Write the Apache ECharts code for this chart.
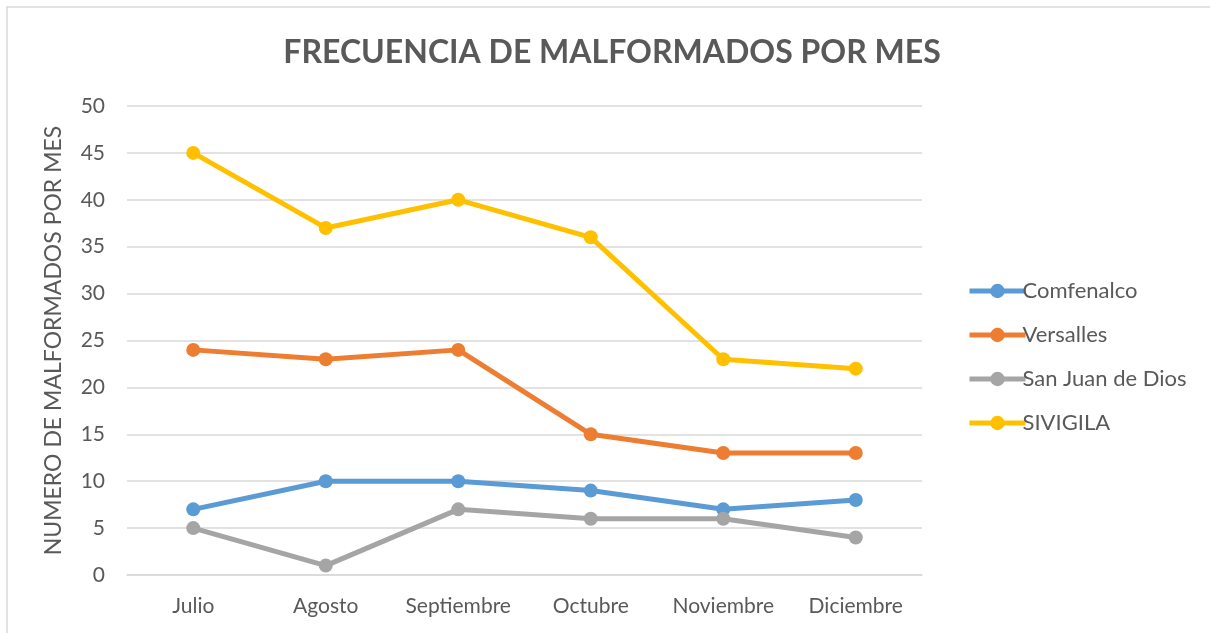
<!DOCTYPE html>
<html><head><meta charset="utf-8">
<script src="https://cdn.jsdelivr.net/npm/echarts@6/dist/echarts.min.js"></script>
<style>html,body{margin:0;padding:0;background:#fff}#c{width:1210px;height:633px}</style>
</head><body><div id="c"></div>
<script>
const categories = ['Julio','Agosto','Septiembre','Octubre','Noviembre','Diciembre'];
const comfenalco = [7,10,10,9,7,8];
const versalles = [24,23,24,15,13,13];
const sanJuan = [5,1,7,6,6,4];
const sivigila = [45,37,40,36,23,22];
const yTicks = [0,5,10,15,20,25,30,35,40,45,50];

const FONT = 'Lato, "Open Sans", sans-serif';
const chart = echarts.init(document.getElementById('c'), null, {renderer:'canvas'});
function s(name, data, color){
  return {name, type:'line', data, symbol:'circle', symbolSize:14,
    lineStyle:{width:5,color}, itemStyle:{color}, z: 3};
}
chart.setOption({
  animation:false,
  title:{text:'FRECUENCIA DE MALFORMADOS POR MES', left:607, top:32, textAlign:'center',
    textStyle:{fontFamily:FONT, fontSize:32, fontWeight:'bold', color:'#595959'}},
  graphic:[{type:'rect', shape:{x:7,y:7,width:1300,height:700}, style:{fill:'none',stroke:'#d9d9d9',lineWidth:1.5}, silent:true}],
  legend:{orient:'vertical', left:962, top:275, itemGap:22, itemWidth:56, itemHeight:18,
    lineStyle:{width:5},
    textStyle:{fontFamily:FONT, fontSize:22, color:'#595959', padding:[0,0,0,-8]},
    data:['Comfenalco','Versalles','San Juan de Dios','SIVIGILA']},
  grid:{left:127, right:288, top:106, bottom:58},
  xAxis:{type:'category', data:categories, boundaryGap:true,
    axisLine:{show:true,lineStyle:{color:'#d9d9d9',width:1.5}}, axisTick:{show:false},
    axisLabel:{interval:0, fontFamily:FONT, fontSize:21, color:'#595959', margin:21}},
  yAxis:{type:'value', min:yTicks[0], max:yTicks[yTicks.length-1], interval:5,
    name:'NUMERO DE MALFORMADOS POR MES', nameLocation:'middle', nameGap:62,
    nameTextStyle:{fontFamily:FONT, fontSize:23, color:'#595959'},
    axisLine:{show:false}, axisTick:{show:false},
    axisLabel:{fontFamily:FONT, fontSize:21, color:'#595959', margin:22},
    splitLine:{lineStyle:{color:'#d9d9d9',width:1.5}}},
  series:[
    s('Comfenalco', comfenalco, '#5B9BD5'),
    s('Versalles', versalles, '#ED7D31'),
    s('San Juan de Dios', sanJuan, '#A5A5A5'),
    s('SIVIGILA', sivigila, '#FFC000')
  ]
});
</script></body></html>
